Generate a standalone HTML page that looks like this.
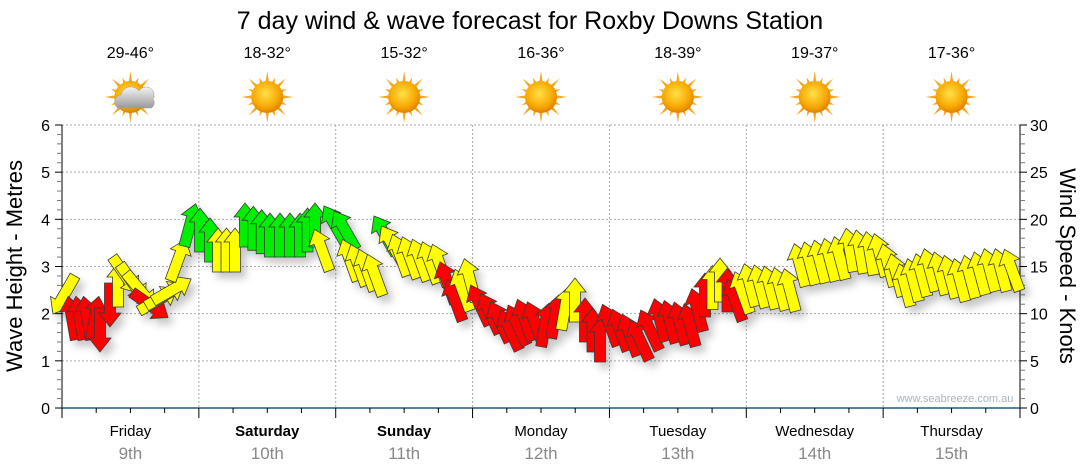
<!DOCTYPE html>
<html><head><meta charset="utf-8"><style>
html,body{margin:0;padding:0;background:#fff;}
svg{display:block;font-family:"Liberation Sans",sans-serif;}
</style></head><body>
<svg id="s" width="1080" height="475" viewBox="0 0 1080 475" xmlns="http://www.w3.org/2000/svg">
<defs>
<filter id="sh" x="-50%" y="-50%" width="200%" height="200%"><feDropShadow dx="5" dy="6" stdDeviation="4" flood-color="#000" flood-opacity="0.22"/></filter>
<radialGradient id="sun" cx="45%" cy="40%" r="60%"><stop offset="0" stop-color="#ffe04a"/><stop offset="0.7" stop-color="#f7a800"/><stop offset="1" stop-color="#e08000"/></radialGradient>
<linearGradient id="cl" x1="0" y1="0" x2="0" y2="1"><stop offset="0" stop-color="#f4f4f4"/><stop offset="1" stop-color="#9a9a9a"/></linearGradient>
</defs>
<text x="530" y="29" font-size="25" text-anchor="middle" fill="#000">7 day wind &amp; wave forecast for Roxby Downs Station</text>
<g id="grid"></g>
<g id="icons"></g>
<g id="arrows" filter="url(#sh)"></g>
<text x="955" y="402" font-size="11" fill="#a8b4c4" text-anchor="middle">www.seabreeze.com.au</text>
<text transform="translate(22,266) rotate(-90)" font-size="22" text-anchor="middle">Wave Height - Metres</text>
<text transform="translate(1060,266) rotate(90)" font-size="22" text-anchor="middle">Wind Speed - Knots</text>
</svg>
<script>
var NS="http://www.w3.org/2000/svg";
function el(p,t,a,txt){var e=document.createElementNS(NS,t);for(var k in a)e.setAttribute(k,a[k]);if(txt!=null)e.textContent=txt;p.appendChild(e);return e;}
var g=document.getElementById('grid');
var L=62,R=1020,T=125,B=408,dw=(R-L)/7;
for(var m=1;m<=6;m++){var y=B-m*(B-T)/6;el(g,'line',{x1:L,x2:R,y1:y,y2:y,stroke:'#aaa','stroke-dasharray':'2,2'});}
for(var d=1;d<7;d++){var x=L+d*dw;el(g,'line',{x1:x,x2:x,y1:T,y2:B,stroke:'#aaa','stroke-dasharray':'2,2'});}
el(g,'line',{x1:L,x2:L,y1:T,y2:B,stroke:'#000'});
el(g,'line',{x1:R,x2:R,y1:T,y2:B,stroke:'#000'});
for(var i=0;i<=30;i++){var y=B-i*(B-T)/30;var maj=i%5==0;
 el(g,'line',{x1:R,x2:R+(maj?7:5),y1:y,y2:y,stroke:maj?'#000':'#777'});
 el(g,'line',{x1:L-(maj?7:5),x2:L,y1:y,y2:y,stroke:maj?'#000':'#777'});
 if(maj){el(g,'text',{x:R+10,y:y+6,'font-size':16},String(i));el(g,'text',{x:L-12,y:y+6,'font-size':16,'text-anchor':'end'},String(i/5));}}
el(g,'line',{x1:L,x2:R,y1:B,y2:B,stroke:'#1c5a86','stroke-width':1.5});
for(var q=0;q<=28;q++){var x=L+q*dw/4;el(g,'line',{x1:x,x2:x,y1:B,y2:B+(q%4==0?10:5),stroke:'#000'});}
var days=["Friday","Saturday","Sunday","Monday","Tuesday","Wednesday","Thursday"],dates=["9th","10th","11th","12th","13th","14th","15th"],temps=["29-46°","18-32°","15-32°","16-36°","18-39°","19-37°","17-36°"];
var ic=document.getElementById('icons');
for(var d=0;d<7;d++){var cx=L+dw*(d+.5);
 el(g,'text',{x:cx,y:436,'font-size':15,'text-anchor':'middle','font-weight':(d==1||d==2)?'bold':'normal'},days[d]);
 el(g,'text',{x:cx,y:459,'font-size':17,'text-anchor':'middle',fill:'#888'},dates[d]);
 el(g,'text',{x:cx,y:58,'font-size':16,'text-anchor':'middle'},temps[d]);
 var sx=cx,sy=97;
 for(var r=0;r<16;r++){var a=r*Math.PI/8,l=(r%2?21:26);
  el(ic,'polygon',{points:(sx+Math.cos(a-.13)*14)+','+(sy+Math.sin(a-.13)*14)+' '+(sx+Math.cos(a)*l)+','+(sy+Math.sin(a)*l)+' '+(sx+Math.cos(a+.13)*14)+','+(sy+Math.sin(a+.13)*14),fill:'#f5a623'});}
 el(ic,'circle',{cx:sx,cy:sy,r:16,fill:'url(#sun)'});
 if(d==0){el(ic,'path',{d:'M118 108 a7 7 0 0 1 3 -13 a10 10 0 0 1 18 -4 a8 8 0 0 1 14 8 a6 6 0 0 1 -2 9 z',fill:'url(#cl)',stroke:'#999','stroke-width':.5});}
}
var K=[[64,295,210,'Y'],[72,318,-10,'R'],[95,318,10,'R'],[100,330,180,'R'],[110,305,180,'R'],[118,285,0,'Y'],[125,275,145,'Y'],[140,290,140,'Y'],[150,305,125,'R'],[158,300,60,'Y'],[172,290,60,'Y'],[178,260,20,'Y'],[190,225,15,'G'],[200,230,0,'G'],[210,240,0,'G'],[218,250,0,'Y'],[235,250,0,'Y'],[245,225,0,'G'],[270,235,0,'G'],[300,235,0,'G'],[315,225,0,'G'],[322,250,-20,'Y'],[335,225,-30,'G'],[345,230,-30,'G'],[350,260,-20,'Y'],[375,275,-20,'Y'],[385,235,-30,'G'],[400,255,-20,'Y'],[440,265,-20,'Y'],[455,300,-20,'R'],[470,280,-15,'Y'],[480,305,-25,'R'],[510,330,-25,'R'],[525,320,-20,'R'],[545,325,10,'R'],[575,300,0,'Y'],[585,320,0,'R'],[600,340,0,'R'],[610,325,-20,'R'],[640,340,-25,'R'],[660,320,-15,'R'],[690,325,-15,'R'],[705,295,0,'R'],[720,280,0,'Y'],[735,300,-20,'R'],[750,285,-15,'Y'],[790,290,-15,'Y'],[800,265,-15,'Y'],[840,258,-15,'Y'],[850,250,-10,'Y'],[880,255,-15,'Y'],[905,285,-15,'Y'],[930,270,-15,'Y'],[960,280,-15,'Y'],[990,270,-15,'Y'],[1012,270,-20,'Y']];
var C={R:'#ff0000',Y:'#ffff00',G:'#00ee00'};
var ar=document.getElementById('arrows');
var pts="0,-22 11,-8 5.5,-8 5.5,22 -5.5,22 -5.5,-8 -11,-8";
function arrow(x,y,a,c){el(ar,'polygon',{points:pts,transform:'translate('+x.toFixed(1)+','+y.toFixed(1)+') rotate('+a.toFixed(1)+')',fill:C[c],stroke:'#3a3a3a','stroke-width':.8});}
for(var i=0;i<K.length-1;i++){var a=K[i],b=K[i+1];var n=Math.max(1,Math.round((b[0]-a[0])/9));
 for(var j=0;j<n;j++){var t=j/n;arrow(a[0]+(b[0]-a[0])*t,a[1]+(b[1]-a[1])*t,a[2],t<.5?a[3]:b[3]);}}
var z=K[K.length-1];arrow(z[0],z[1],z[2],z[3]);
</script>
</body></html>
